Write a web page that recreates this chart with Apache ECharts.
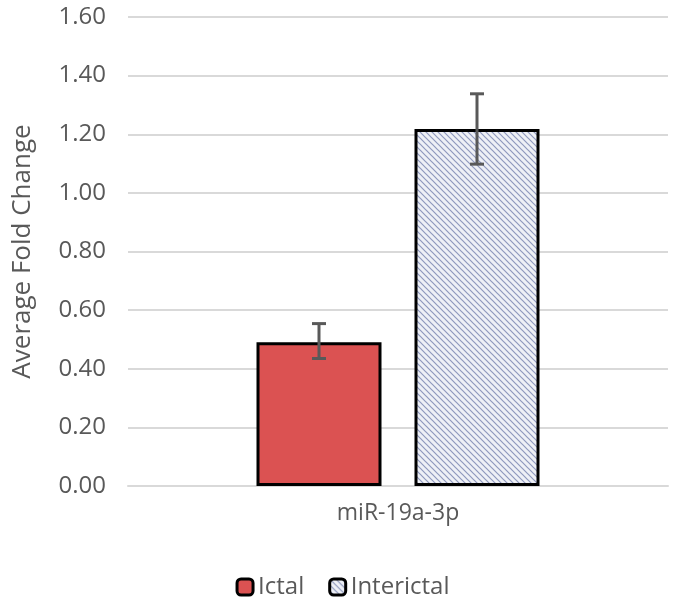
<!DOCTYPE html>
<html>
<head>
<meta charset="utf-8">
<script src="https://cdn.jsdelivr.net/npm/echarts@6/dist/echarts.min.js"></script>
<style>html,body{margin:0;padding:0;background:#fff}#chart{width:685px;height:604px}</style>
</head>
<body>
<div id="chart"></div>
<script>
// data
const categories = ['miR-19a-3p'];
const seriesNames = ['Ictal', 'Interictal'];
const means = [0.49, 1.218];
const errLow = [0.435, 1.098];
const errHigh = [0.554, 1.338];
const yTicks = { min: 0, max: 1.6, interval: 0.2 };

// hatch pattern for Interictal
function hatch() {
    const c = document.createElement('canvas');
    c.width = 6; c.height = 6;
    const g = c.getContext('2d');
    g.fillStyle = '#eef0f6';
    g.fillRect(0, 0, 6, 6);
    g.strokeStyle = '#8e98bd';
    g.lineWidth = 1.2;
    g.beginPath();
    g.moveTo(0, 0); g.lineTo(6, 6);
    g.moveTo(-3, 3); g.lineTo(3, 9);
    g.moveTo(3, -3); g.lineTo(9, 3);
    g.stroke();
    return c;
}

const BAR_W = 125, GAP = 33;
const chart = echarts.init(document.getElementById('chart'));
const font = '"Open Sans", "DejaVu Sans", sans-serif';

chart.setOption({
    animation: false,
    grid: { left: 128, right: 17, top: 17, bottom: 118 },
    legend: {
        bottom: 0, left: 'center', itemWidth: 16, itemHeight: 16, itemGap: 24,
        textStyle: { fontSize: 24, color: '#595959', fontFamily: font },
        data: [
            { name: seriesNames[0], itemStyle: { borderColor: '#000', borderWidth: 3 } },
            { name: seriesNames[1], itemStyle: { borderColor: '#000', borderWidth: 3 } }
        ]
    },
    xAxis: {
        type: 'category', data: categories,
        axisLine: { lineStyle: { color: '#d9d9d9', width: 2 } },
        axisTick: { show: false },
        axisLabel: { fontSize: 23, color: '#595959', fontFamily: font, margin: 16 }
    },
    yAxis: {
        type: 'value', min: yTicks.min, max: yTicks.max, interval: yTicks.interval,
        name: 'Average Fold Change', nameLocation: 'middle', nameGap: 92,
        nameTextStyle: { fontSize: 26, color: '#595959', fontFamily: font },
        axisLabel: { fontSize: 24, color: '#595959', fontFamily: font, margin: 22, formatter: v => v.toFixed(2) },
        splitLine: { lineStyle: { color: '#d9d9d9', width: 2 } }
    },
    series: [
        {
            name: seriesNames[0], type: 'bar', data: [means[0]], barWidth: BAR_W, barGap: (GAP / BAR_W * 100) + '%',
            itemStyle: { color: '#db5252', borderColor: '#000', borderWidth: 3 }
        },
        {
            name: seriesNames[1], type: 'bar', data: [means[1]], barWidth: BAR_W,
            itemStyle: { color: { image: hatch(), repeat: 'repeat' }, borderColor: '#000', borderWidth: 3 }
        },
        {
            type: 'custom', silent: true, z: 10,
            data: means.map((m, i) => [0, errLow[i], errHigh[i], i]),
            renderItem: function (params, api) {
                const i = api.value(3);
                const off = (i === 0 ? -1 : 1) * (BAR_W + GAP) / 2;
                const lo = api.coord([api.value(0), api.value(1)]);
                const hi = api.coord([api.value(0), api.value(2)]);
                const x = lo[0] + off, cap = 7;
                const st = { stroke: '#595959', lineWidth: 3 };
                return { type: 'group', children: [
                    { type: 'line', shape: { x1: x, y1: lo[1], x2: x, y2: hi[1] }, style: st },
                    { type: 'line', shape: { x1: x - cap, y1: lo[1], x2: x + cap, y2: lo[1] }, style: st },
                    { type: 'line', shape: { x1: x - cap, y1: hi[1], x2: x + cap, y2: hi[1] }, style: st }
                ] };
            }
        }
    ]
});
</script>
</body>
</html>
